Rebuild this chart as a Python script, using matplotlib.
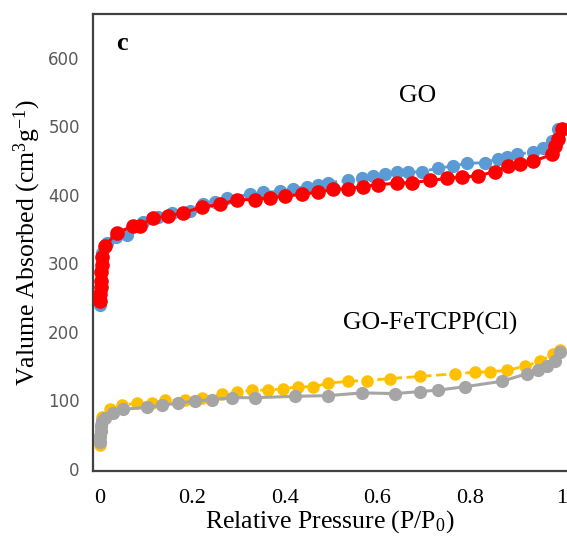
import matplotlib.pyplot as plt
import numpy as np

plt.rcParams['mathtext.fontset'] = 'custom'
plt.rcParams['mathtext.rm'] = 'Liberation Serif'
plt.rcParams['mathtext.it'] = 'Liberation Serif:italic'

# GO adsorption (red) / desorption (blue)
go_ads_x = [0.001, 0.001, 0.002, 0.002, 0.003, 0.004, 0.005, 0.011, 0.036, 0.071, 0.086,
            0.114, 0.147, 0.179, 0.221, 0.259, 0.297, 0.335, 0.368, 0.400, 0.438,
            0.472, 0.504, 0.537, 0.569, 0.602, 0.643, 0.676, 0.714, 0.751, 0.784,
            0.819, 0.855, 0.883, 0.909, 0.937, 0.979, 0.985, 0.992, 1.000]
go_ads_y = [245, 255, 265, 275, 287, 298, 310, 325, 345, 354, 355,
            366, 369, 374, 382, 386, 393, 393, 396, 398, 401,
            404, 408, 409, 412, 415, 417, 418, 421, 424, 426,
            428, 434, 442, 445, 449, 459, 471, 481, 496]
go_des_x = [0.001, 0.002, 0.003, 0.005, 0.015, 0.035, 0.059, 0.093, 0.126, 0.156,
            0.195, 0.223, 0.249, 0.275, 0.325,
            0.353, 0.390, 0.417, 0.448, 0.472, 0.493, 0.537, 0.567, 0.591, 0.617,
            0.643, 0.667, 0.697, 0.731, 0.764, 0.794, 0.834, 0.861, 0.881, 0.903,
            0.937, 0.959, 0.979, 0.992]
go_des_y = [240, 262, 290, 315, 330, 338, 342, 361, 367, 374,
            376, 386, 390, 395, 401,
            404, 405, 409, 412, 415, 418, 421, 424, 427, 430,
            433, 433, 434, 439, 442, 446, 447, 453, 456, 459,
            463, 469, 478, 496]

# GO-FeTCPP(Cl) adsorption (grey) / desorption (yellow)
fe_ads_x = [0.001, 0.001, 0.002, 0.003, 0.004, 0.011, 0.028, 0.050, 0.101, 0.134,
            0.169, 0.206, 0.242, 0.286, 0.335, 0.422, 0.493, 0.567, 0.638, 0.693,
            0.731, 0.790, 0.870, 0.924, 0.948, 0.967, 0.985, 0.996]
fe_ads_y = [40, 48, 55, 62, 70, 75, 82, 87, 90, 93,
            96, 99, 101, 104, 104, 106, 107, 111, 110, 113,
            115, 120, 128, 139, 144, 150, 157, 170]
fe_des_x = [0.001, 0.001, 0.002, 0.003, 0.004, 0.021, 0.048, 0.080, 0.112, 0.141,
            0.184, 0.221, 0.264, 0.297, 0.329, 0.364, 0.396, 0.428, 0.461, 0.493,
            0.537, 0.577, 0.628, 0.693, 0.769, 0.811, 0.844, 0.881, 0.920, 0.952,
            0.981, 0.996]
fe_des_y = [35, 45, 55, 66, 76, 87, 93, 96, 96, 100,
            100, 104, 109, 112, 115, 115, 117, 120, 120, 125,
            128, 129, 132, 135, 139, 141, 142, 144, 150, 157,
            168, 174]

fig = plt.figure(figsize=(5.67, 5.45), dpi=100)
ax = fig.add_axes((93 / 567, 74 / 545, 476 / 567, 457 / 545))

ax.plot(go_des_x, go_des_y, '--o', color='#5B9BD5', lw=2, ms=8.5, zorder=2)
ax.plot(go_ads_x, go_ads_y, '-o', color='#FF0000', lw=2.2, ms=9.5, zorder=3)
ax.plot(fe_des_x, fe_des_y, '--o', color='#FFC000', lw=2, ms=8, zorder=2)
ax.plot(fe_ads_x, fe_ads_y, '-o', color='#A5A5A5', lw=2.2, ms=8.5, zorder=3)

ax.set_xlim(-0.0152, 1.015)
ax.set_ylim(-3, 664)
ax.set_xticks([0, 0.2, 0.4, 0.6, 0.8, 1])
ax.set_xticklabels(['0', '0.2', '0.4', '0.6', '0.8', '1'],
                   fontfamily='Liberation Serif', fontsize=16)
ax.set_yticks(range(0, 700, 100))
ax.set_yticklabels([str(v) for v in range(0, 700, 100)],
                   fontfamily='DejaVu Sans', fontsize=12, color='#595959')
ax.tick_params(axis='both', length=0)
ax.tick_params(axis='x', pad=13)
ax.tick_params(axis='y', pad=9.5)
for s in ax.spines.values():
    s.set_color('#404040')
    s.set_linewidth(1.6)

fig.text(330 / 567, 1 - 522 / 545, 'Relative Pressure (P/P$_0$)',
         fontfamily='Liberation Serif', fontsize=18.5, ha='center', va='center')
fig.text(27 / 567, 1 - 243 / 545, 'Valume Absorbed (cm$^3$g$^{-1}$)',
         fontfamily='Liberation Serif', fontsize=18.5, ha='center', va='center',
         rotation=90)

ax.text(0.048, 621, 'c', fontfamily='Liberation Serif', fontsize=19,
        fontweight='bold', va='center', ha='center')
ax.text(0.688, 544, 'GO', fontfamily='Liberation Serif', fontsize=18.5,
        va='center', ha='center')
ax.text(0.714, 212, 'GO-FeTCPP(Cl)', fontfamily='Liberation Serif', fontsize=18.5,
        va='center', ha='center')

fig.savefig('out.png', dpi=100)
